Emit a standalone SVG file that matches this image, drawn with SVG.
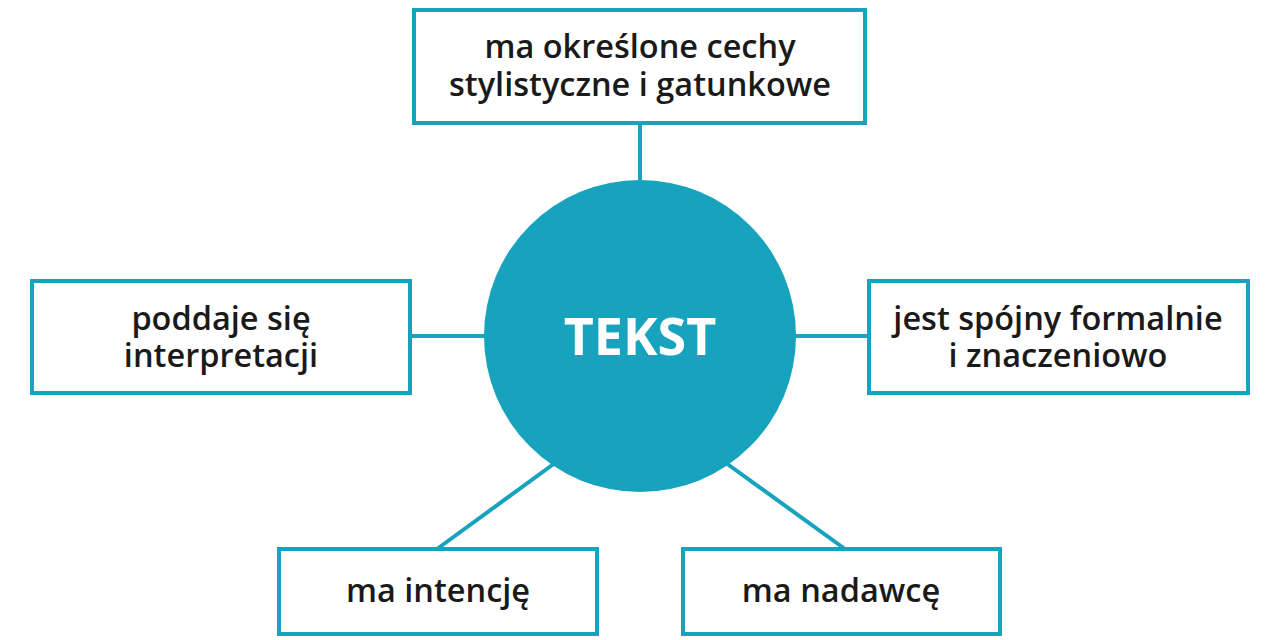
<svg xmlns="http://www.w3.org/2000/svg" width="1280" height="640" viewBox="0 0 1280 640">
<style>
.b{fill:#fff;stroke:#17a2bd;stroke-width:4}
.t{font-family:"Open Sans",sans-serif;font-weight:600;font-size:32.5px;fill:#1a1a1a;text-anchor:middle}
.c{stroke:#17a2bd;stroke-width:4;fill:none}
</style>
<rect width="1280" height="640" fill="#fff"/>
<g id="connectors">
<line class="c" x1="640" y1="123" x2="640" y2="182"/>
<line class="c" x1="410" y1="336" x2="485" y2="336"/>
<line class="c" x1="796" y1="336" x2="869" y2="336"/>
<line class="c" x1="437" y1="549" x2="555" y2="463"/>
<line class="c" x1="845" y1="549" x2="726" y2="463"/>
</g>
<g id="center">
<circle cx="640" cy="336" r="156" fill="#17a2bd"/>
<text x="640" y="355" style="font-family:'Open Sans',sans-serif;font-weight:700;font-size:52px;fill:#fff;text-anchor:middle">TEKST</text>
</g>
<g id="top"><rect class="b" x="414" y="10" width="451" height="113"/>
<text class="t" x="640" y="58">ma określone cechy</text><text class="t" x="640" y="96">stylistyczne i gatunkowe</text></g>
<g id="left"><rect class="b" x="32" y="281" width="378" height="112"/>
<text class="t" x="221" y="330">poddaje się</text><text class="t" x="221" y="367">interpretacji</text></g>
<g id="right"><rect class="b" x="869" y="281" width="379" height="112"/>
<text class="t" x="1058" y="330">jest spójny formalnie</text><text class="t" x="1058" y="367">i znaczeniowo</text></g>
<g id="bl"><rect class="b" x="279" y="549" width="318" height="85"/>
<text class="t" x="438" y="602">ma intencję</text></g>
<g id="br"><rect class="b" x="683" y="549" width="317" height="85"/>
<text class="t" x="841" y="602">ma nadawcę</text></g>
</svg>
